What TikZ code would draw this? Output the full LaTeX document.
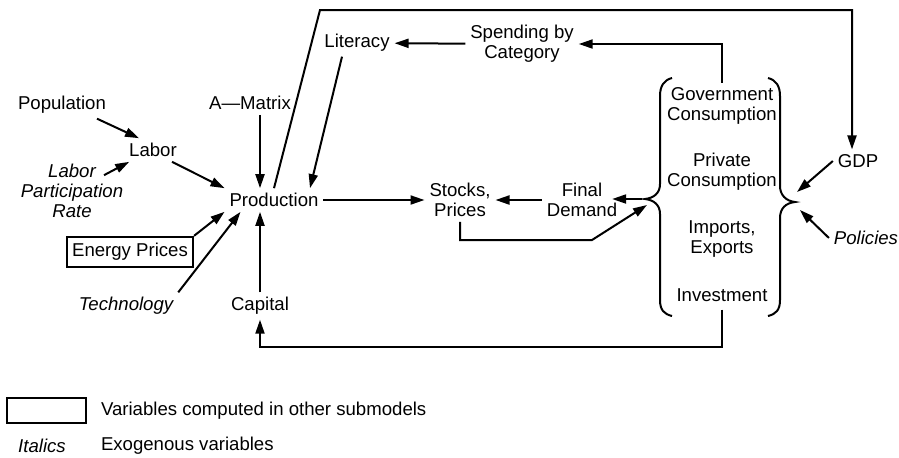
\documentclass[tikz,border=0pt]{standalone}
\usepackage{fontspec}
\setmainfont{Liberation Sans}
\usetikzlibrary{arrows.meta,calc}

\begin{document}
\begin{tikzpicture}[x=0.5pt, y=-0.5pt, line width=1pt, >={Triangle[length=7pt,width=4.5pt]},
        font=\fontsize{9.3}{10}\selectfont,
        main/.style = {align=center, inner sep=2pt},
        exo/.style = {main, font=\fontsize{9.3}{10}\selectfont\itshape},
        boxed/.style = {main, draw, line width=1.2pt, minimum height=15pt, inner xsep=2.5pt}]
        \useasboundingbox (0,0) rectangle (899,457);

        \node[main] (pop) at (62,105) {Population};
        \node[main] (lab) at (153,150) {Labor};
        \node[exo] (lpr) at (72,191) {Labor\\Participation\\Rate};
        \node[main] (amat) at (250,103) {A—Matrix};
        \node[main] (lit) at (357,43) {Literacy};
        \node[main] (sp) at (522,44) {Spending by\\Category};
        \node[main] (prod) at (274,200) {Production};
        \node[boxed] (en) at (130,252) {Energy Prices};
        \node[exo] (tech) at (126,306) {Technology};
        \node[main] (cap) at (260,306) {Capital};
        \node[main] (stk) at (460,200) {Stocks,\\Prices};
        \node[main] (fd) at (582,200) {Final\\Demand};
        \node[main] (gov) at (722,106) {Government\\Consumption};
        \node[main] (priv) at (722,172) {Private\\Consumption};
        \node[main] (imp) at (722,239) {Imports,\\Exports};
        \node[main] (inv) at (722,295) {Investment};
        \node[main] (gdp) at (858,161) {GDP};
        \node[exo] (pol) at (866,238) {Policies};

        \coordinate (lt) at (645,199);
        \coordinate (rt) at (795,202);
        \coordinate (tl) at (320,10);
        \coordinate (sb) at (592,240);
        \coordinate (bl) at (722,347);

        \draw (672,78) .. controls (664,80) and (660,86) .. (660,96) -- (660,184)
            .. controls (660,193) and (654,198) .. (lt)
            .. controls (654,200) and (660,205) .. (660,214) -- (660,300)
            .. controls (660,310) and (664,314) .. (672,316);
        \draw (768,78) .. controls (776,80) and (780,86) .. (780,96) -- (780,186)
            .. controls (780,195) and (786,201) .. (rt)
            .. controls (786,203) and (780,208) .. (780,218) -- (780,300)
            .. controls (780,310) and (776,314) .. (768,316);

        \path[->] ([xshift=17.5pt]pop.south) edge ([xshift=-7pt]lab.north);
        \path[->] ($(lpr.north)+(32,16)$) edge ([xshift=2.5pt]lab.south west);
        \path[->] ([xshift=9.5pt]lab.south) edge (prod.north west);
        \path[->] (amat.south -| cap) edge (prod.north -| cap);
        \path[->] ([xshift=-7.5pt]lit.south) edge ([xshift=18pt]prod.north);
        \path[->] (en.north east) edge (prod.south west);
        \path[->] (tech.north east) edge ([xshift=8pt]prod.south west);
        \path[->] (cap) edge (prod.south -| cap);
        \path[->] (prod) edge (stk);
        \path[->] (fd) edge (stk);
        \path[->] (sp) edge (lit);
        \path[->] ([xshift=-1.5pt]lt) edge ([xshift=-5pt]fd.east |- lt);
        \path[->] (gdp.west) edge ([shift={(1pt,5pt)}]rt);
        \path[->] (pol.west) edge ([shift={(2.5pt,-4pt)}]rt);

        \draw[->] (prod.north) -- (tl) -| ([xshift=-3pt]gdp.north);
        \draw[->] (gov.north) |- (sp.east);
        \draw[->] (stk.south) |- (sb) -- ([shift={(1pt,-3pt)}]lt);
        \draw[->] ([yshift=-1.5pt]inv.south) -- (bl) -| (cap.south);

        \node[draw, line width=1.2pt, minimum width=39.5pt, minimum height=12.5pt] (lbox) at (46.5,410.5) {};
        \node[main, anchor=west] (lboxtxt) at (96,411) {Variables computed in other submodels};
        \node[exo] (lital) at (42,446) {Italics};
        \node[main, anchor=west] (litaltxt) at (96,446) {Exogenous variables};
\end{tikzpicture}
\end{document}
